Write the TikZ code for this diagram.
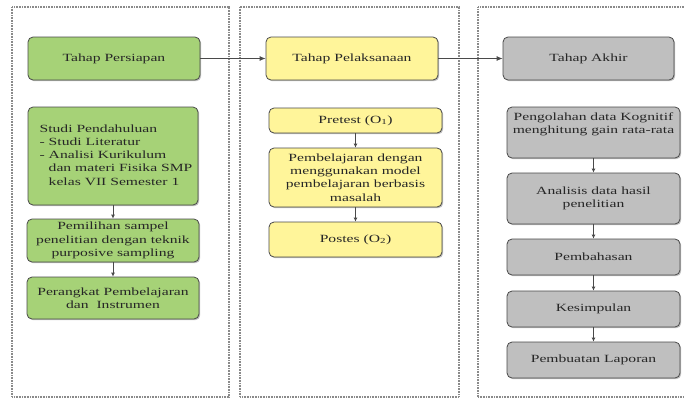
\documentclass[tikz,border=0pt]{standalone}
\usepackage{fontspec}
\setmainfont[FakeStretch=1.42]{Liberation Serif}
\usetikzlibrary{arrows.meta,shadows}
\definecolor{grfill}{HTML}{A6D277}
\definecolor{yefill}{HTML}{FFF59A}
\definecolor{gyfill}{HTML}{BFBFBF}
\definecolor{edge}{HTML}{4A4A4A}
\definecolor{panelc}{HTML}{8A8A8A}
\tikzset{
  box/.style={draw=edge, line width=0.8pt, rounded corners=5pt, align=center,
    inner sep=1pt, font=\fontsize{11}{13.3}\selectfont, text=black!85,
    drop shadow={shadow xshift=1.2pt, shadow yshift=-1.2pt, opacity=0.35, fill=black!70}},
  gbox/.style={box, fill=grfill},
  ybox/.style={box, fill=yefill},
  kbox/.style={box, fill=gyfill},
  panel/.style={draw=panelc, line width=1.2pt, dash pattern=on 0.8pt off 0.8pt},
  link/.style={draw=edge, line width=0.8pt, -{Latex[length=6pt,width=5pt]}},
  vlink/.style={draw=edge, line width=0.8pt, -{Latex[length=4pt,width=4pt]}}
}
\begin{document}
\begin{tikzpicture}[x=1pt,y=-1pt]
\useasboundingbox (0,0) rectangle (684,399);
\fill[white] (0,0) rectangle (684,399);
% panels
\draw[panel] (12,7) rectangle (229,397);
\draw[panel] (240,7) rectangle (459,397);
\draw[panel] (478,397) -- (478,7) -- (690,7);
\draw[panel] (478,397) -- (690,397);
% column 1
\node[gbox, minimum width=172pt, minimum height=43pt] (p1) at (114,58.5) {Tahap Persiapan};
\node[gbox, minimum width=170pt, minimum height=98pt] (s1) at (113,156)
  {\hspace*{6pt}\begin{tabular}{@{}l@{}}Studi Pendahuluan\\- Studi Literatur\\- Analisi Kurikulum\\\hphantom{- }dan materi Fisika SMP\\\hphantom{- }kelas VII Semester 1\end{tabular}};
\node[gbox, minimum width=172pt, minimum height=43pt] (s2) at (113,240.5)
  {Pemilihan sampel\\penelitian dengan teknik\\purposive sampling};
\node[gbox, minimum width=172pt, minimum height=42pt] (s3) at (113,298)
  {Perangkat Pembelajaran\\dan\ \ Instrumen};
% column 2
\node[ybox, minimum width=172pt, minimum height=43pt] (p2) at (352,58.5) {Tahap Pelaksanaan};
\node[ybox, minimum width=173pt, minimum height=25pt] (t1) at (355.5,120.5) {Pretest (O\textsubscript{1})};
\node[ybox, minimum width=173pt, minimum height=59pt] (t2) at (355.5,177.5)
  {Pembelajaran dengan\\menggunakan model\\pembelajaran berbasis\\masalah};
\node[ybox, minimum width=173pt, minimum height=35pt] (t3) at (355.5,239.5) {Postes (O\textsubscript{2})};
% column 3
\node[kbox, minimum width=171pt, minimum height=43pt] (p3) at (588.5,58.5) {Tahap Akhir};
\node[kbox, minimum width=173pt, minimum height=51pt] (a1) at (593.5,132.5)
  {Pengolahan data Kognitif\\menghitung gain rata-rata\\[6pt]};
\node[kbox, minimum width=173pt, minimum height=51pt] (a2) at (593.5,198.5)
  {Analisis data hasil\\penelitian};
\node[kbox, minimum width=173pt, minimum height=36pt] (a3) at (593.5,257) {Pembahasan};
\node[kbox, minimum width=173pt, minimum height=36pt] (a4) at (593.5,309) {Kesimpulan};
\node[kbox, minimum width=173pt, minimum height=36pt] (a5) at (593.5,360) {Pembuatan Laporan};
% connectors
\draw[link] (p1) -- (p2);
\draw[link] (p2) -- (p3);
\draw[vlink] (s1) -- (s2);
\draw[vlink] (s2) -- (s3);
\draw[vlink] (t1) -- (t2);
\draw[vlink] (t2) -- (t3);
\draw[vlink] (a1) -- (a2);
\draw[vlink] (a2) -- (a3);
\draw[vlink] (a3) -- (a4);
\draw[vlink] (a4) -- (a5);
\end{tikzpicture}
\end{document}
